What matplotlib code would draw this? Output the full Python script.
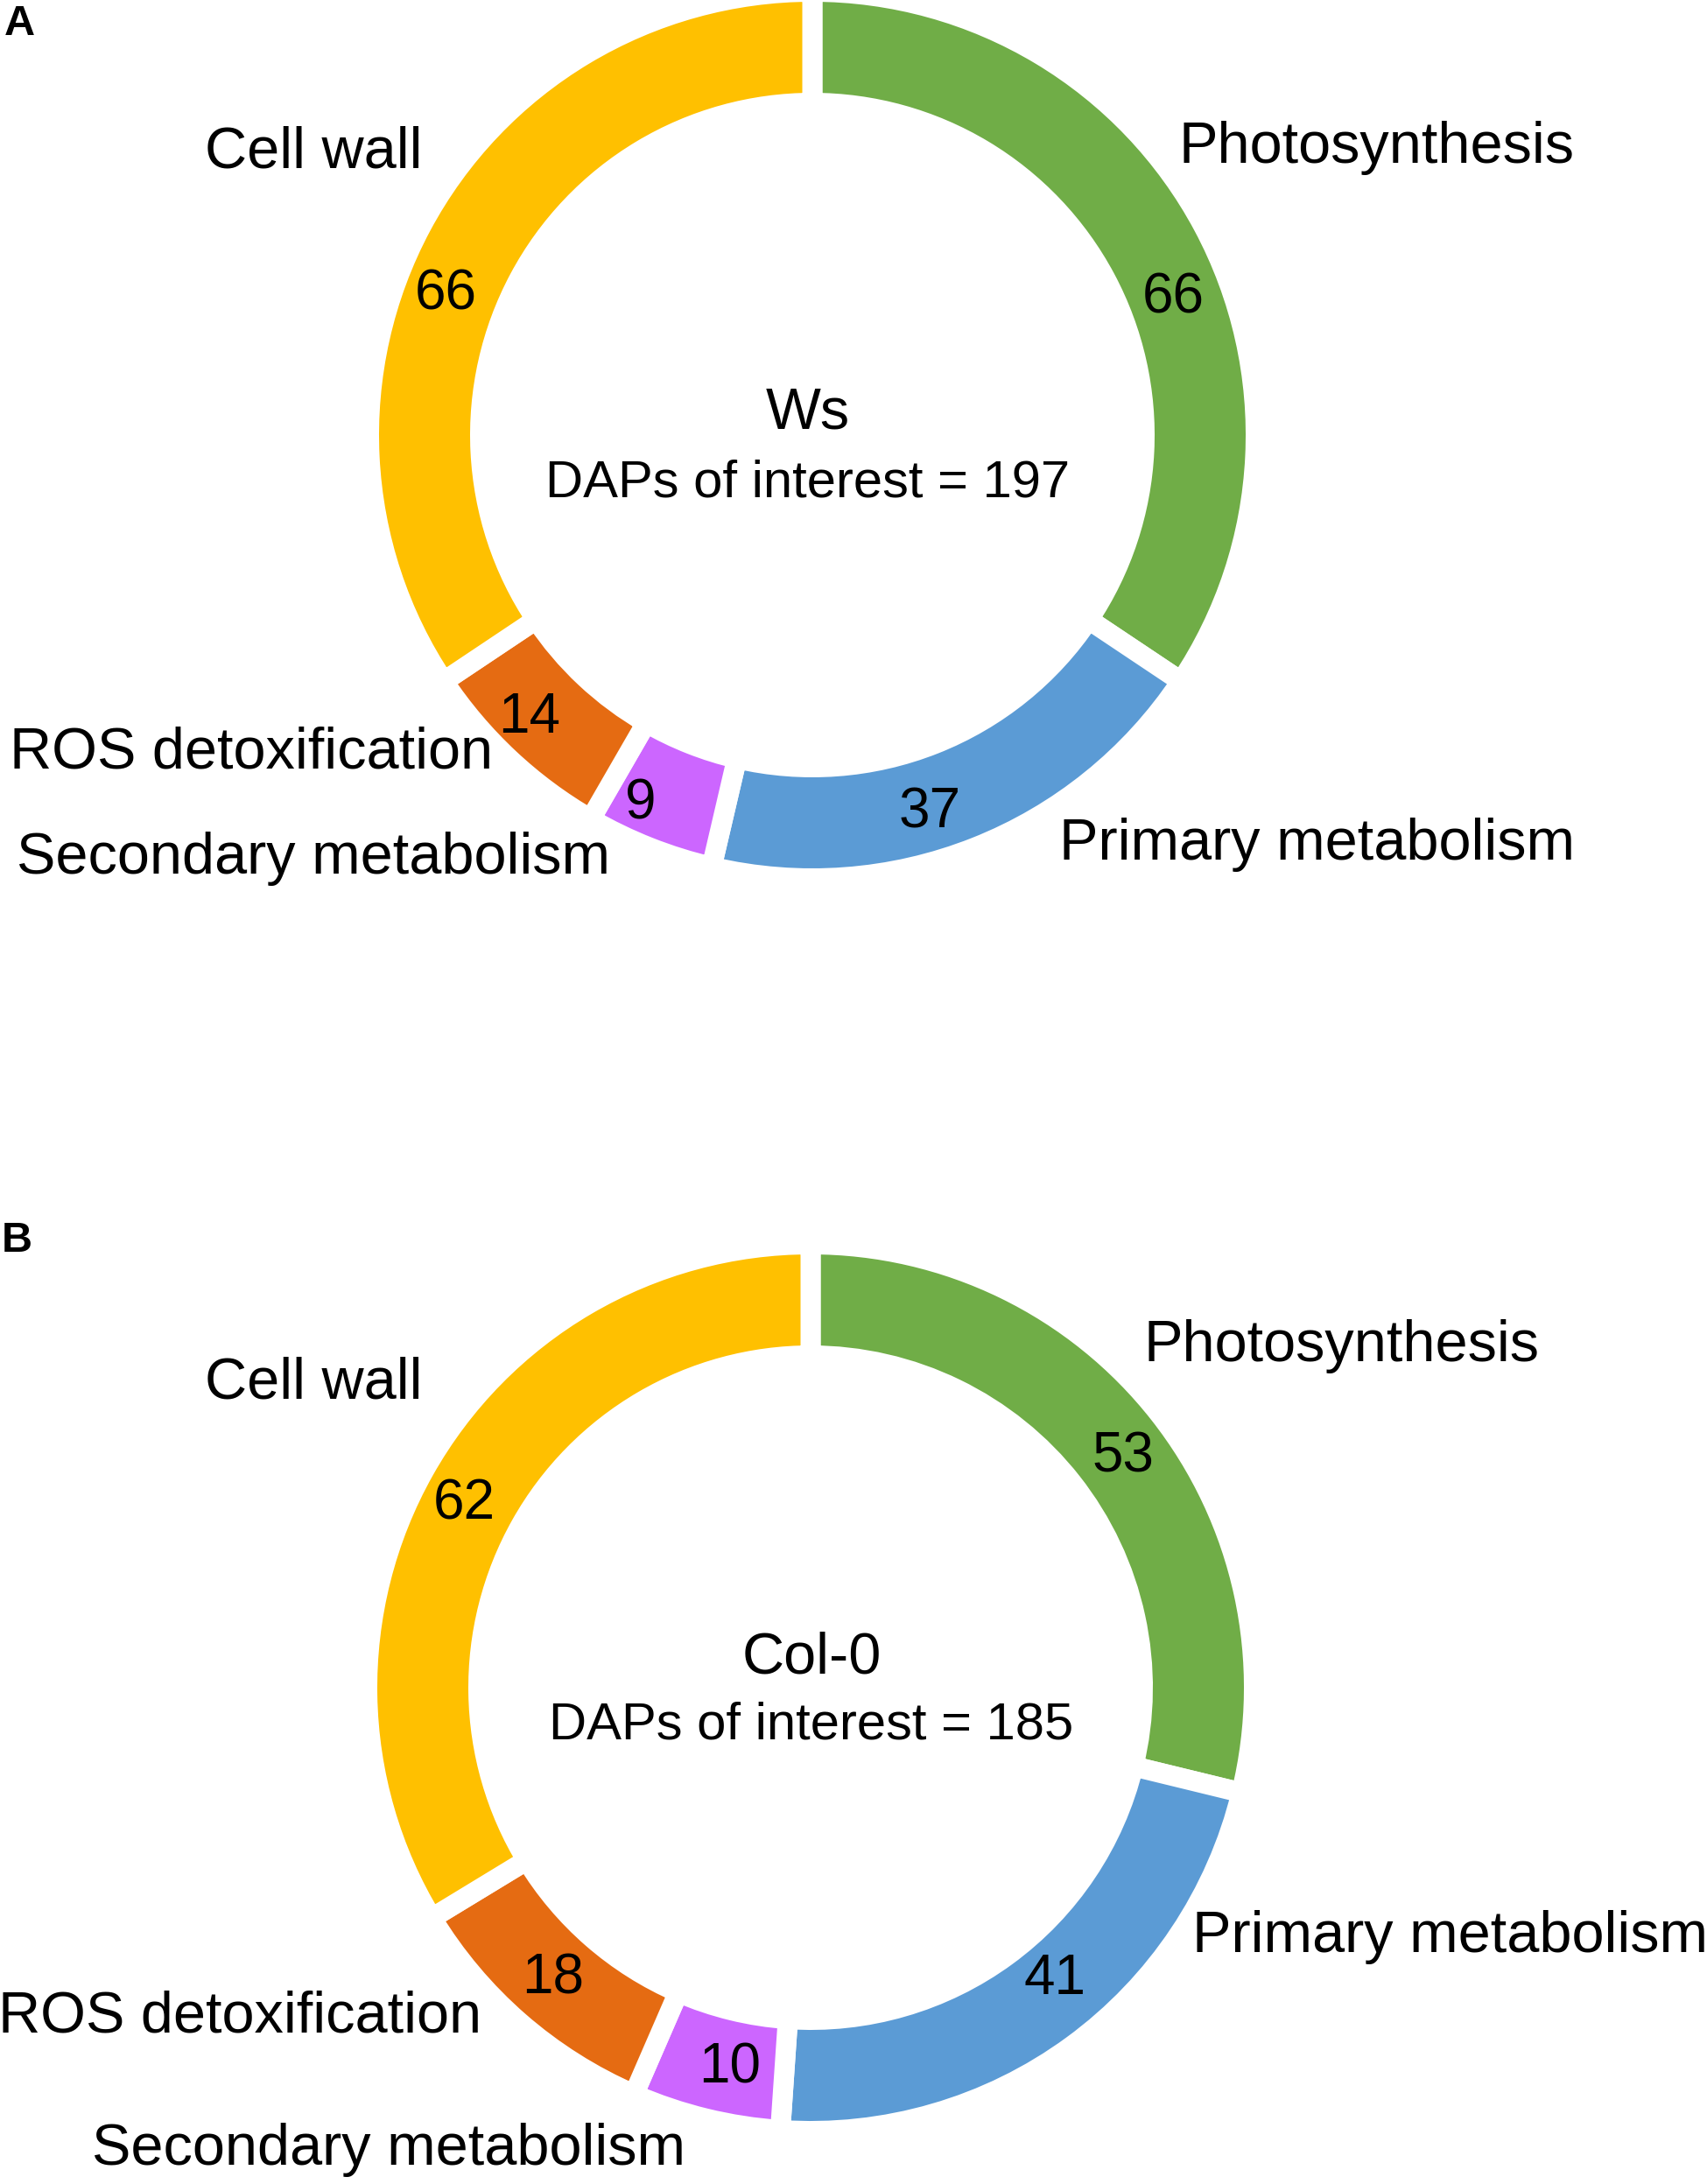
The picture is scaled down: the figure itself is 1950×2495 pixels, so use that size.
import matplotlib
matplotlib.use('Agg')
import matplotlib.pyplot as plt

plt.rcParams['font.family'] = ['Liberation Sans', 'DejaVu Sans']

# data
categories = ['Photosynthesis', 'Primary metabolism', 'Secondary metabolism',
              'ROS detoxification', 'Cell wall']
colors = ['#70AD47', '#5B9BD5', '#CC66FF', '#E56B12', '#FFC000']
ws_values = [66, 37, 9, 14, 66]
col_values = [53, 41, 10, 18, 62]
ws_total = 197
col_total = 185

W, H = 1950, 2495
fig = plt.figure(figsize=(W / 100, H / 100), dpi=100)
ax = fig.add_axes([0, 0, 1, 1])

R_OUT = 495
RING = 104
GAP = 23  # px white gap between wedges


def donut(values, cx, cy):
    ax.pie(values, colors=colors, startangle=90, counterclock=False,
           radius=R_OUT + GAP / 2, center=(cx, H - cy),
           wedgeprops=dict(width=RING + GAP, edgecolor='white',
                           linewidth=GAP * 72 / 100))


def txt(x, y, s, size=48, **kw):
    ax.text(x, H - y, s, fontsize=size, ha='center', va='center', **kw)


# panel A
donut(ws_values, 928, 497)
txt(22, 27, 'A', size=35, weight='bold')
txt(923, 473, 'Ws')
txt(923, 552, f'DAPs of interest = {ws_total}', size=43)
txt(1573, 169, categories[0])
txt(1504, 965, categories[1])
txt(358, 981, categories[2])
txt(287, 861, categories[3])
txt(358, 175, categories[4])
txt(1340, 341, str(ws_values[0]), size=46)
txt(1062, 928, str(ws_values[1]), size=46)
txt(732, 919, str(ws_values[2]), size=46)
txt(605, 820, str(ws_values[3]), size=46)
txt(509, 336, str(ws_values[4]), size=46)

# panel B
donut(col_values, 926, 1928)
txt(19, 1417, 'B', size=35, weight='bold')
txt(927, 1894, 'Col-0')
txt(927, 1971, f'DAPs of interest = {col_total}', size=43)
txt(1533, 1538, categories[0])
txt(1656, 2213, categories[1])
txt(444, 2456, categories[2])
txt(274, 2304, categories[3])
txt(358, 1581, categories[4])
txt(1283, 1664, str(col_values[0]), size=46)
txt(1205, 2261, str(col_values[1]), size=46)
txt(834, 2362, str(col_values[2]), size=46)
txt(632, 2261, str(col_values[3]), size=46)
txt(530, 1719, str(col_values[4]), size=46)

ax.set_xlim(0, W)
ax.set_ylim(0, H)
ax.set_aspect('equal')
ax.axis('off')

fig.savefig('out.png', dpi=100, facecolor='white')
